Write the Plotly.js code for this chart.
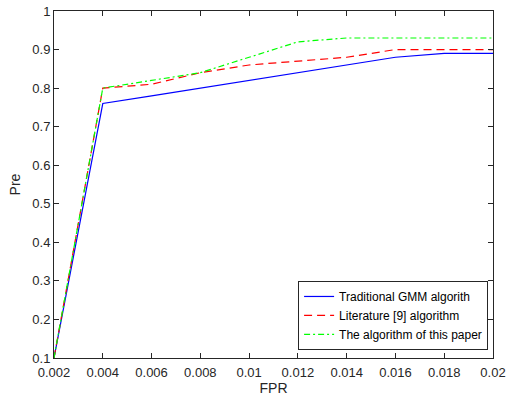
<!DOCTYPE html>
<html>
<head>
<meta charset="utf-8">
<script src="https://cdn.plot.ly/plotly-3.0.1.min.js"></script>
<style>html,body{margin:0;padding:0;background:#fff;}#chart{width:507px;height:399px;}</style>
</head>
<body>
<div id="chart"></div>
<script>
var fpr = [0.002, 0.004, 0.006, 0.008, 0.010, 0.012, 0.014, 0.016, 0.018, 0.020];
var traditionalGMM = [0.10, 0.76, 0.78, 0.80, 0.82, 0.84, 0.86, 0.88, 0.89, 0.89];
var literature9 = [0.10, 0.80, 0.81, 0.84, 0.86, 0.87, 0.88, 0.90, 0.90, 0.90];
var thisPaper = [0.10, 0.80, 0.82, 0.84, 0.88, 0.92, 0.93, 0.93, 0.93, 0.93];
var seriesNames = ['Traditional GMM algorith', 'Literature [9] algorithm', 'The algorithm of this paper'];
var xTickVals = [0.002, 0.004, 0.006, 0.008, 0.010, 0.012, 0.014, 0.016, 0.018, 0.020];
var xTickText = ['0.002', '0.004', '0.006', '0.008', '0.01', '0.012', '0.014', '0.016', '0.018', '0.02'];
var yTickVals = [0.1, 0.2, 0.3, 0.4, 0.5, 0.6, 0.7, 0.8, 0.9, 1.0];
var yTickText = ['0.1', '0.2', '0.3', '0.4', '0.5', '0.6', '0.7', '0.8', '0.9', '1'];

var axisColor = '#262626';
var traces = [
  {x: fpr, y: traditionalGMM, name: seriesNames[0], mode: 'lines', line: {color: '#0000ff', width: 1.2, dash: 'solid'}},
  {x: fpr, y: literature9, name: seriesNames[1], mode: 'lines', line: {color: '#ff0000', width: 1.2, dash: '8px,5px'}},
  {x: fpr, y: thisPaper, name: seriesNames[2], mode: 'lines', line: {color: '#00ff00', width: 1.2, dash: '6px,3px,2px,3px'}}
];
var axisCommon = {
  showgrid: false, zeroline: false, showline: true, linecolor: axisColor, linewidth: 1,
  mirror: 'ticks', ticks: 'inside', ticklen: 5, tickcolor: axisColor, tickwidth: 1,
  tickfont: {family: 'Liberation Sans, Arial, sans-serif', size: 13, color: axisColor}
};
var layout = {
  width: 507, height: 399,
  margin: {l: 54, r: 14, t: 11, b: 41, pad: 0},
  paper_bgcolor: '#ffffff', plot_bgcolor: '#ffffff',
  showlegend: true,
  xaxis: Object.assign({}, axisCommon, {
    range: [0.002, 0.02], tickmode: 'array', tickvals: xTickVals, ticktext: xTickText,
    ticklabelstandoff: 2,
    title: {text: 'FPR', font: {family: 'Liberation Sans, Arial, sans-serif', size: 14, color: axisColor}, standoff: 4}
  }),
  yaxis: Object.assign({}, axisCommon, {
    range: [0.1, 1.0], tickmode: 'array', tickvals: yTickVals, ticktext: yTickText,
    title: {text: 'Pre', font: {family: 'Liberation Sans, Arial, sans-serif', size: 14, color: axisColor}, standoff: 8}
  }),
  legend: {
    x: 0.556, y: 0.222, xanchor: 'left', yanchor: 'top',
    bgcolor: '#ffffff', bordercolor: axisColor, borderwidth: 1,
    font: {family: 'Liberation Sans, Arial, sans-serif', size: 12, color: '#000000'},
    itemwidth: 30, tracegroupgap: 0
  }
};
Plotly.newPlot('chart', traces, layout, {displayModeBar: false, staticPlot: true});
</script>
</body>
</html>
